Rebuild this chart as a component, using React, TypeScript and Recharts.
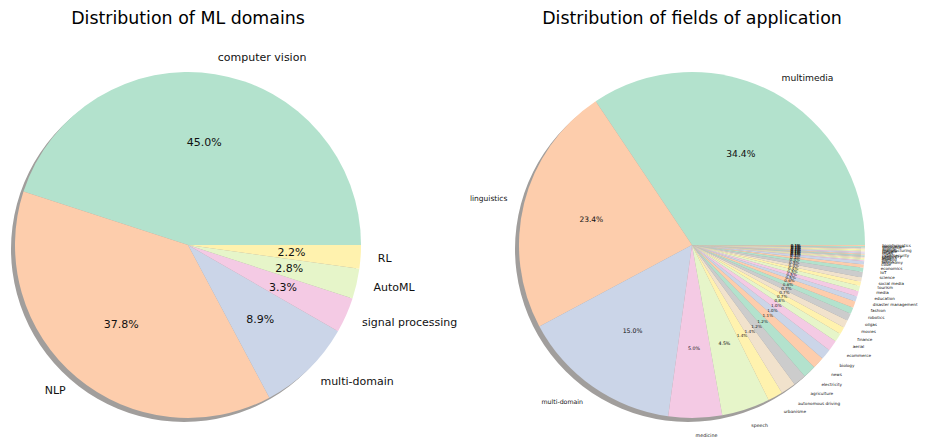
import React from 'react';
import { PieChart, Pie, Cell } from 'recharts';

const domainNames = ['computer vision', 'NLP', 'multi-domain', 'signal processing', 'AutoML', 'RL'];
const domainShares = [45.0, 37.8, 8.9, 3.3, 2.8, 2.2];

const fieldNames = [
  'multimedia', 'linguistics', 'multi-domain', 'medicine', 'speech',
  'urbanisme', 'autonomous driving', 'agriculture', 'electricity', 'news',
  'biology', 'ecommerce', 'aerial', 'finance', 'movies',
  'oilgas', 'robotics', 'fashion', 'disaster management', 'education',
  'media', 'tourism', 'social media', 'science', 'IoT',
  'economics', 'code', 'astronomy', 'sports', 'gaming',
  'legal', 'physics', 'chemistry', 'cybersecurity', 'music',
  'retail', 'climate', 'manufacturing', 'energy', 'insurance',
  'geoscience', 'bioinformatics',
];
const fieldShares = [
  34.4, 23.4, 15.0, 5.0, 4.5,
  1.4, 1.4, 1.2, 1.2, 1.1,
  1.0, 1.0, 0.8, 0.7, 0.7,
  0.7, 0.6, 0.6, 0.5, 0.5,
  0.5, 0.4, 0.4, 0.5, 0.4,
  0.3, 0.3, 0.1, 0.1, 0.1,
  0.1, 0.1, 0.1, 0.1, 0.1,
  0.1, 0.1, 0.1, 0.1, 0.1,
  0.1, 0.1,
];

// matplotlib Pastel2
const pastel2 = ['#b3e2cd', '#fdcdac', '#cbd5e8', '#f4cae4', '#e6f5c9', '#fff2ae', '#f1e2cc', '#cccccc'];

const domainData = domainNames.map((name, i) => ({ name, value: domainShares[i] }));
const fieldData = fieldNames.map((name, i) => ({ name, value: fieldShares[i] }));

const RADIAN = Math.PI / 180;
const FONT = '"DejaVu Sans", sans-serif';
const R = 173;
const LEFT_CX = 188;
const RIGHT_CX = 692;
const CY = 245;

const makeLabel = (sized: boolean) => (props: any) => {
  const { cx, cy, midAngle, outerRadius, percent, name, index } = props;
  const cos = Math.cos(-midAngle * RADIAN);
  const sin = Math.sin(-midAngle * RADIAN);
  const pct = percent * 100;
  const fs = sized ? Math.min(10, 4 + pct * 0.15) : 11;
  const lx = cx + outerRadius * 1.1 * cos;
  const ly = cy + outerRadius * 1.1 * sin;
  const px = cx + outerRadius * 0.6 * cos;
  const py = cy + outerRadius * 0.6 * sin;
  return (
    <g key={`lbl-${index}`}>
      <text x={lx} y={ly} fontSize={fs} fontFamily={FONT} fill="#111"
        textAnchor={cos >= 0 ? 'start' : 'end'} dominantBaseline="central">
        {name}
      </text>
      <text x={px} y={py} fontSize={fs} fontFamily={FONT} fill="#111"
        textAnchor="middle" dominantBaseline="central">
        {pct.toFixed(1)}%
      </text>
    </g>
  );
};

const shadow = [{ name: 'shadow', value: 1 }];

const titleStyle: React.CSSProperties = {
  position: 'absolute', top: 8, width: 400, textAlign: 'center',
  fontFamily: FONT, fontSize: 17.4, color: '#000',
};

export default function App() {
  return (
    <div style={{ position: 'absolute', left: 0, top: 0, width: 925, height: 437, background: '#fff' }}>
      <div style={{ ...titleStyle, left: LEFT_CX - 200 }}>Distribution of ML domains</div>
      <div style={{ ...titleStyle, left: RIGHT_CX - 200 }}>Distribution of fields of application</div>
      <PieChart width={925} height={437} margin={{ top: 0, right: 0, bottom: 0, left: 0 }}>
        <Pie data={shadow} dataKey="value" cx={LEFT_CX - 4} cy={CY + 4} outerRadius={R}
          fill="#a19e9c" stroke="none" isAnimationActive={false} />
        <Pie data={shadow} dataKey="value" cx={RIGHT_CX - 4} cy={CY + 4} outerRadius={R}
          fill="#a19e9c" stroke="none" isAnimationActive={false} />
        <Pie data={domainData} dataKey="value" nameKey="name" cx={LEFT_CX} cy={CY}
          outerRadius={R} startAngle={0} endAngle={360} stroke="none"
          labelLine={false} label={makeLabel(false)} isAnimationActive={false}>
          {domainData.map((d, i) => <Cell key={d.name} fill={pastel2[i % 8]} />)}
        </Pie>
        <Pie data={fieldData} dataKey="value" nameKey="name" cx={RIGHT_CX} cy={CY}
          outerRadius={R} startAngle={0} endAngle={360} stroke="none"
          labelLine={false} label={makeLabel(true)} isAnimationActive={false}>
          {fieldData.map((d, i) => <Cell key={d.name} fill={pastel2[i % 8]} />)}
        </Pie>
      </PieChart>
    </div>
  );
}
